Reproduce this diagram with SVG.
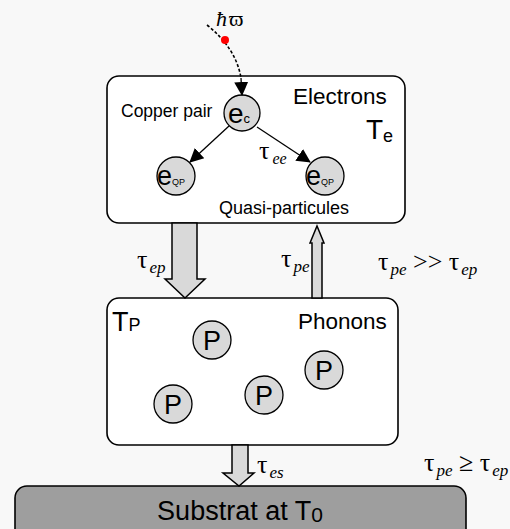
<svg xmlns="http://www.w3.org/2000/svg" width="510" height="529" viewBox="0 0 510 529">
<defs>
<style>
.box{fill:#fff;stroke:#000;stroke-width:1.6}
.ball{fill:#d9d9d9;stroke:#000;stroke-width:1.3}
.sans{font-family:"Liberation Sans",Arial,sans-serif;fill:#000}
.ser{font-family:"Liberation Serif","Times New Roman",serif;fill:#000}
.it{font-style:italic}
.fat{fill:#d9d9d9;stroke:#000;stroke-width:1.5;stroke-linejoin:miter}
</style>
<marker id="ah2" markerWidth="14" markerHeight="18" refX="13" refY="7" orient="auto" markerUnits="userSpaceOnUse" viewBox="0 0 14 14">
<path d="M0,0 L14,7 L0,14 z" fill="#000"/>
</marker>
</defs>
<rect width="510" height="529" fill="#f8f8f8"/>

<g id="electrons">
<rect class="box" x="107" y="76" width="298" height="147" rx="12"/>
<text class="sans" x="293" y="104" font-size="22.5">Electrons</text>
<text class="sans" x="366" y="139" font-size="28">T<tspan font-size="18" dy="3">e</tspan></text>
<text class="sans" x="121" y="117" font-size="17.5">Copper pair</text>
<text class="sans" x="219" y="214" font-size="18">Quasi-particules</text>
<text class="ser" x="259" y="159" font-size="26">τ<tspan class="it" font-size="16" dx="3" dy="5">ee</tspan></text>
</g>
<g id="ec">
<circle class="ball" cx="242" cy="113" r="18"/>
<text class="sans" x="228" y="123" font-size="28">e<tspan font-size="13">c</tspan></text>
</g>
<g id="eqp1">
<circle class="ball" cx="176" cy="176" r="19"/>
<text class="sans" x="157" y="185" font-size="27">e<tspan font-size="9">QP</tspan></text>
</g>
<g id="eqp2">
<circle class="ball" cx="325" cy="176" r="19"/>
<text class="sans" x="306" y="185" font-size="27">e<tspan font-size="9">QP</tspan></text>
</g>

<g id="phonons">
<rect class="box" x="107" y="298" width="291" height="147" rx="12"/>
<text class="sans" x="112" y="331" font-size="27">T<tspan font-size="18">P</tspan></text>
<text class="sans" x="298" y="329" font-size="22.5">Phonons</text>
</g>
<g id="p1"><circle class="ball" cx="212" cy="340" r="19"/><text class="sans" x="212" y="350" font-size="27" text-anchor="middle">P</text></g>
<g id="p2"><circle class="ball" cx="173" cy="404" r="19"/><text class="sans" x="173" y="414" font-size="27" text-anchor="middle">P</text></g>
<g id="p3"><circle class="ball" cx="264" cy="395" r="19"/><text class="sans" x="264" y="405" font-size="27" text-anchor="middle">P</text></g>
<g id="p4"><circle class="ball" cx="324" cy="370" r="19"/><text class="sans" x="324" y="380" font-size="27" text-anchor="middle">P</text></g>

<g id="substrat">
<rect x="15" y="486" width="451" height="60" rx="12" fill="#9e9e9e" stroke="#000" stroke-width="1.6"/>
<text class="sans" x="240" y="520" font-size="27" text-anchor="middle">Substrat at T<tspan font-size="21" dy="2">0</tspan></text>
</g>

<g id="photon">
<text class="ser it" x="216" y="26" font-size="22">ħ</text>
<text class="ser" x="229" y="26" font-size="22">ϖ</text>
</g>

<g id="connectors">
<path d="M207,25 Q236,48 241,78" fill="none" stroke="#000" stroke-width="1.6" stroke-dasharray="3,2"/>
<path d="M241,78 L242,95" fill="none" stroke="#000" stroke-width="1.3" marker-end="url(#ah2)"/>
<circle cx="225" cy="40" r="4" fill="#f00"/>
<path d="M229,126 L190,162" fill="none" stroke="#000" stroke-width="1.3" marker-end="url(#ah2)"/>
<path d="M257,127 L310,162" fill="none" stroke="#000" stroke-width="1.3" marker-end="url(#ah2)"/>
<path class="fat" d="M172,223 L197,223 L197,279 L205,279 L185,298 L165,279 L172,279 Z"/>
<path class="fat" d="M312,298 L312,243 L310,243 L317,226 L324,243 L322,243 L322,298 Z"/>
<path class="fat" d="M232,445 L248,445 L248,473 L254,473 L239,486 L223,473 L232,473 Z"/>
</g>

<g id="labels">
<text class="ser" x="137" y="268" font-size="26">τ<tspan class="it" font-size="17" dx="2" dy="5">ep</tspan></text>
<text class="ser" x="281" y="267" font-size="26">τ<tspan class="it" font-size="17" dx="2" dy="5">pe</tspan></text>
<text class="ser" x="378" y="270" font-size="26">τ<tspan class="it" font-size="17" dx="2" dy="5">pe</tspan><tspan dy="-5"> &gt;&gt; τ</tspan><tspan class="it" font-size="17" dx="2" dy="5">ep</tspan></text>
<text class="ser" x="257" y="473" font-size="26">τ<tspan class="it" font-size="17" dx="2" dy="5">es</tspan></text>
<text class="ser" x="424" y="471" font-size="26">τ<tspan class="it" font-size="17" dx="2" dy="5">pe</tspan><tspan dy="-5"> ≥ τ</tspan><tspan class="it" font-size="17" dx="2" dy="5">ep</tspan></text>
</g>
</svg>
